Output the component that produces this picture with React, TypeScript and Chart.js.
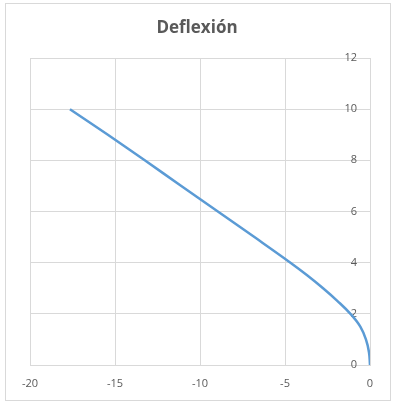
import React, { useEffect, useRef } from "react";
import { Chart, registerables } from "chart.js";

Chart.register(...registerables);

const chartTitle = "Deflexión";
const deflexionX = [0, -0.06, -0.24, -0.57, -1.15, -1.91, -2.76, -3.68, -4.68, -6.8, -8.95, -11.1, -13.25, -15.42, -17.65];
const deflexionY = [0, 0.5, 1, 1.5, 2, 2.5, 3, 3.5, 4, 5, 6, 7, 8, 9, 10];
const xTicks = [-20, -15, -10, -5, 0];
const yTicks = [0, 2, 4, 6, 8, 10, 12];

const frameAndTitle = {
  id: "frameAndTitle",
  beforeDraw(chart: any) {
    const { ctx, width, height } = chart;
    ctx.save();
    ctx.fillStyle = "#ffffff";
    ctx.fillRect(0, 0, width, height);
    ctx.strokeStyle = "#d9d9d9";
    ctx.lineWidth = 1;
    ctx.strokeRect(5.5, 3.5, 385, 397);
    ctx.restore();
  },
  afterDraw(chart: any) {
    const { ctx } = chart;
    ctx.save();
    ctx.fillStyle = "#595959";
    ctx.font = "bold 17px 'Open Sans'";
    ctx.textAlign = "center";
    ctx.textBaseline = "middle";
    ctx.fillText(chartTitle, 197, 28);
    ctx.restore();
  },
};

export default function App() {
  const ref = useRef<HTMLCanvasElement | null>(null);
  useEffect(() => {
    if (!ref.current) return;
    const points = deflexionX.map((x, i) => ({ x, y: deflexionY[i] }));
    const chart = new Chart(ref.current, {
      type: "scatter",
      data: {
        datasets: [
          {
            data: points,
            showLine: true,
            borderColor: "#5b9bd5",
            borderWidth: 2.5,
            pointRadius: 0,
            tension: 0.4,
            fill: false,
          },
        ],
      },
      options: {
        responsive: false,
        animation: false,
        layout: { padding: { left: 30, right: 23, top: 58, bottom: 0 } },
        plugins: {
          legend: { display: false },
          title: { display: false },
          tooltip: { enabled: false },
        },
        scales: {
          x: {
            type: "linear",
            min: -20,
            max: 0,
            afterBuildTicks(scale: any) {
              scale.ticks = xTicks.map((v) => ({ value: v }));
            },
            afterFit(scale: any) {
              scale.height = 41;
            },
            grid: { color: "#d9d9d9", drawTicks: false, lineWidth: 1 },
            border: { color: "#d9d9d9" },
            ticks: {
              padding: 12,
              color: "#595959",
              font: { family: "'Open Sans'", size: 11 },
              maxRotation: 0,
            },
          },
          y: {
            type: "linear",
            position: "right",
            min: 0,
            max: 12,
            afterBuildTicks(scale: any) {
              scale.ticks = yTicks.map((v) => ({ value: v }));
            },
            afterFit(scale: any) {
              scale.width = 0;
            },
            grid: { color: "#d9d9d9", drawTicks: false, lineWidth: 1 },
            border: { color: "#d9d9d9" },
            ticks: {
              mirror: true,
              padding: -13,
              color: "#595959",
              font: { family: "'Open Sans'", size: 11 },
            },
          },
        },
      },
      plugins: [frameAndTitle],
    });
    return () => chart.destroy();
  }, []);
  return (
    <div style={{ position: "absolute", left: 0, top: 0, width: 393, height: 406 }}>
      <canvas ref={ref} width={393} height={406} style={{ display: "block" }} />
    </div>
  );
}
